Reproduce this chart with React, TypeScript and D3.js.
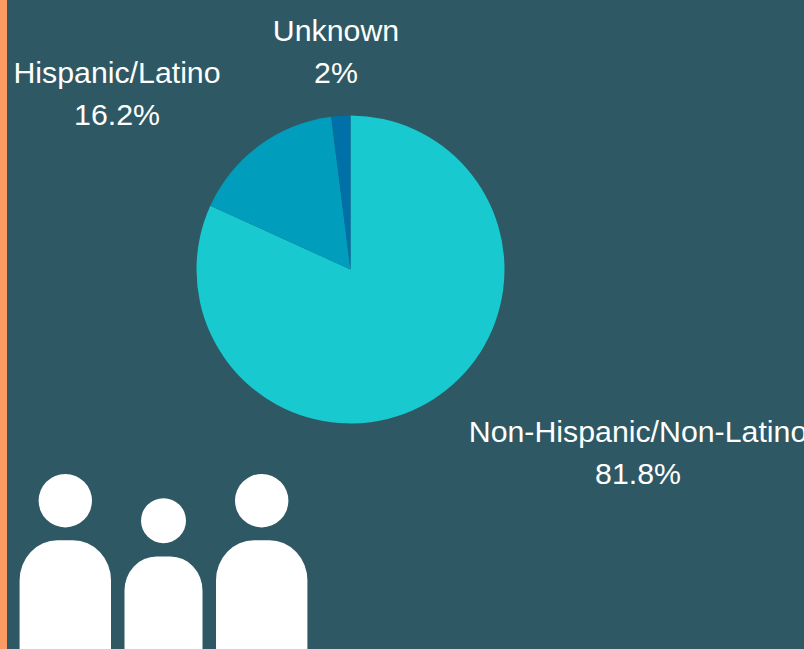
import React from "react";
import * as d3 from "d3";

const categories = ["Non-Hispanic/Non-Latino", "Hispanic/Latino", "Unknown"];
const values = [81.8, 16.2, 2];
const valueLabels = ["81.8%", "16.2%", "2%"];
const colors = ["#18cacf", "#019dbd", "#0071a8"];
const labelCenters: [number, number][] = [[638, 431], [117, 72], [336, 30]];

const adults = [65.3, 261.7];
const child = [163.5];

const W = 804, H = 649;
const cx = 350.5, cy = 269.5, R = 154;

export default function App() {
  const pie = d3.pie<number>().sort(null).value((d) => d);
  const arc = d3.arc<d3.PieArcDatum<number>>().innerRadius(0).outerRadius(R);
  const arcs = pie(values);
  const body = (c: number, hw: number, top: number, r: number) =>
    `M${c - hw},${H} V${top + r + 2} A${r},${r + 2} 0 0 1 ${c - hw + r},${top} H${c + hw - r} A${r},${r + 2} 0 0 1 ${c + hw},${top + r + 2} V${H} Z`;
  return (
    <svg width={W} height={H} style={{ position: "fixed", left: 0, top: 0, display: "block" }}>
      <rect x={0} y={0} width={W} height={H} fill="#2e5964" />
      <rect x={0} y={0} width={7} height={H} fill="#fb9a63" />
      <g transform={`translate(${cx},${cy})`}>
        {arcs.map((a, i) => (
          <path key={i} d={arc(a) || ""} fill={colors[i]} />
        ))}
      </g>
      {categories.map((c, i) => (
        <g key={c} fontFamily="'Liberation Sans', Arial, sans-serif" fontSize={30.3} fill="#ffffff" textAnchor="middle">
          <text x={labelCenters[i][0]} y={labelCenters[i][1]} dy="0.35em">{c}</text>
          <text x={labelCenters[i][0]} y={labelCenters[i][1] + 42} dy="0.35em">{valueLabels[i]}</text>
        </g>
      ))}
      {adults.map((x) => (
        <g key={x} fill="#ffffff">
          <circle cx={x} cy={500.7} r={26.7} />
          <path d={body(x, 45.7, 540.3, 38)} />
        </g>
      ))}
      {child.map((x) => (
        <g key={x} fill="#ffffff">
          <circle cx={x} cy={520.7} r={22.5} />
          <path d={body(x, 39, 556.5, 32)} />
        </g>
      ))}
    </svg>
  );
}
